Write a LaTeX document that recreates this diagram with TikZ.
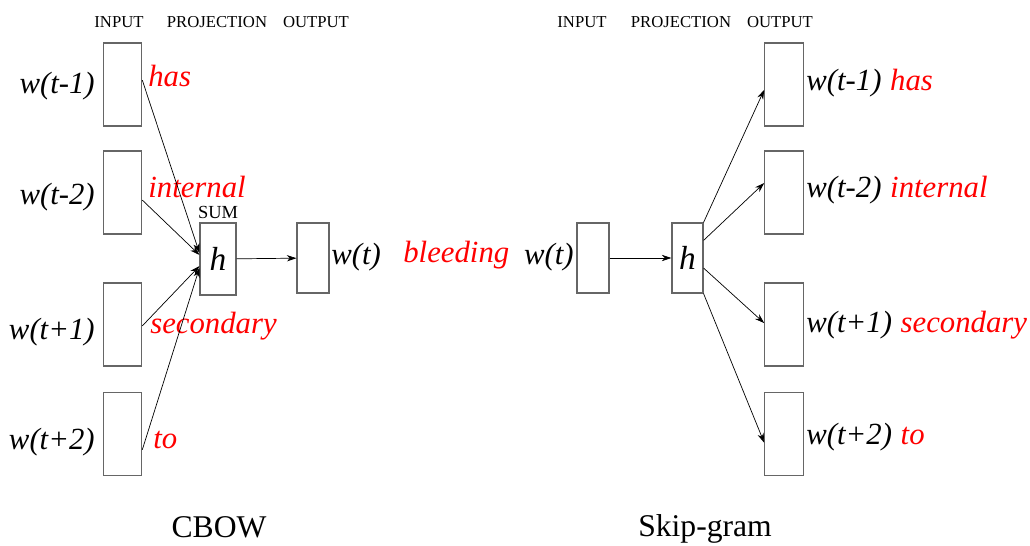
\documentclass[tikz,border=0pt]{standalone}
\usepackage{fontspec}
\setmainfont{Liberation Serif}
\usetikzlibrary{arrows.meta,positioning}

\begin{document}
\begin{tikzpicture}[x=0.02cm, y=-0.02cm,
    vecbox/.style={draw=black!60, line width=0.6pt, inner sep=0pt, minimum width=0.77cm, minimum height=1.66cm},
    hidbox/.style={draw=black!60, line width=0.6pt, inner sep=0pt, minimum width=0.66cm, minimum height=1.42cm,
                   font=\fontsize{19}{20}\selectfont\itshape},
    arrow/.style={-{Stealth[length=5.5pt,width=3.6pt]}, line width=0.4pt},
    wlabel/.style={font=\fontsize{17.5}{18}\selectfont\itshape, inner sep=0pt},
    redword/.style={wlabel, text=red},
    layer/.style={font=\fontsize{9.5}{10}\selectfont, inner sep=0pt, anchor=base},
    model/.style={font=\fontsize{18}{20}\selectfont, inner sep=0pt, anchor=base}
]
\useasboundingbox (0,0) rectangle (1030,545);

% CBOW
\node[layer] (cin) at (119,27) {INPUT};
\node[layer] (cproj) at (217,27) {PROJECTION};
\node[layer] (cout) at (316,27) {OUTPUT};
\foreach \i/\yc/\ctx/\word/\wb/\rb/\rx in {a/84.5/t-1/has/93/86/148, b/192.5/t-2/internal/204/197/148,
                                            c/324.5/t+1/secondary/339/333/150, d/434/t+2/to/449/448/153} {
    \node[vecbox] (in\i) at (122.5,\yc) {};
    \node[wlabel, anchor=base east] (win\i) at (95,\wb) {w(\ctx)};
    \node[redword, anchor=base west] (rin\i) at (\rx,\rb) {\word};
}
\node[hidbox, minimum width=0.72cm, minimum height=1.44cm] (hL) at (218,259) {h};
\node[font=\fontsize{10.5}{11}\selectfont, inner sep=0pt, above=0.07cm of hL] (sum) {SUM};
\node[hidbox, minimum width=0.64cm, minimum height=1.4cm] (oL) at (313,258) {};
\node[wlabel, anchor=base west] (wtL) at (331,264) {w(t)};
\node[redword, anchor=base west] (target) at (403,262) {bleeding};
\draw[arrow] ([yshift=2.5pt]ina.east) -- ([yshift=3.4pt]hL.west);
\draw[arrow] ([yshift=-4.3pt]inb.east) -- ([yshift=2.3pt]hL.west);
\draw[arrow] ([yshift=-0.8pt]inc.east) -- ([yshift=-4pt]hL.west);
\draw[arrow] ([yshift=-9pt]ind.east) -- ([yshift=-5pt]hL.west);
\draw[arrow] (hL) -- (oL);
\node[model] (cbow) at (219,537) {CBOW};

% Skip-gram
\node[layer] (sin) at (582,27) {INPUT};
\node[layer] (sproj) at (681,27) {PROJECTION};
\node[layer] (sout) at (780,27) {OUTPUT};
\node[wlabel, anchor=base east] (wtR) at (574,264) {w(t)};
\node[hidbox, minimum width=0.64cm, minimum height=1.4cm] (iR) at (593,258) {};
\node[hidbox, minimum width=0.62cm, minimum height=1.4cm] (hR) at (687.5,258) {h};
\foreach \i/\yc/\ctx/\word/\wb in {a/84.5/t-1/has/90, b/192.5/t-2/internal/197,
                                    c/324.5/t+1/secondary/332, d/434/t+2/to/444} {
    \node[vecbox] (out\i) at (784,\yc) {};
    \node[wlabel, anchor=base west] (wout\i) at (806,\wb) {w(\ctx)};
    \node[redword, anchor=base west] (rout\i) at ([xshift=0.16cm]wout\i.base east) {\word};
}
\draw[arrow] (iR) -- (hR);
\draw[arrow] (hR.north east) -- ([yshift=-3pt]outa.west);
\draw[arrow] ([yshift=10pt]hR.east) -- ([yshift=5.4pt]outb.west);
\draw[arrow] ([yshift=-5.7pt]hR.east) -- ([yshift=0.8pt]outc.west);
\draw[arrow] (hR.south east) -- ([yshift=-5pt]outd.west);
\node[model] (skip) at (705,536) {Skip-gram};
\end{tikzpicture}
\end{document}
